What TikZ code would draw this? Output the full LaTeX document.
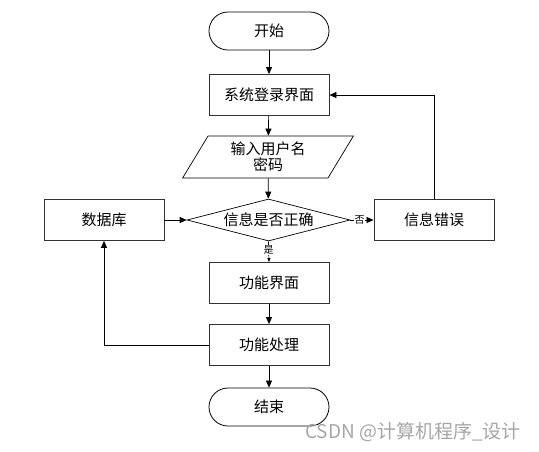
\documentclass[tikz,border=0pt]{standalone}
\usepackage{fontspec}
\setmainfont{Noto Sans CJK SC}
\newfontfamily\cjk{Noto Sans CJK SC}
\usetikzlibrary{shapes.geometric,arrows.meta}
\begin{document}
\begin{tikzpicture}[x=1pt,y=-1pt,
  font=\cjk\fontsize{15}{17}\selectfont,
  every node/.style={inner sep=0pt},
  term/.style={draw=black,line width=0.8pt,rounded corners=19pt,minimum width=120pt,minimum height=38pt},
  procbox/.style={draw=black!80,line width=0.8pt,minimum width=120pt,minimum height=41pt},
  iobox/.style={draw=black,line width=0.7pt,trapezium,trapezium left angle=62,trapezium right angle=118,trapezium stretches=true,minimum width=171pt,minimum height=42pt,align=center},
  decbox/.style={draw=black,line width=0.7pt,diamond,aspect=3.9,minimum width=163pt,minimum height=42pt},
  conn/.style={draw=black,line width=0.7pt,-{Triangle[length=7pt,width=6pt]}},
  lbl/.style={fill=white,font=\cjk\fontsize{10}{11}\selectfont,inner sep=0.5pt}]
\useasboundingbox (0,0) rectangle (539,451);
\node[term] (start) at (269,31) {开始};
\node[procbox] (login) at (269,95) {系统登录界面};
\node[iobox] (input) at (268,157) {输入用户名\\[-1pt]密码};
\node[decbox] (check) at (268.5,220) {信息是否正确};
\node[procbox] (db) at (104,220) {数据库};
\node[procbox] (err) at (434,220) {信息错误};
\node[procbox] (func) at (269,283) {功能界面};
\node[procbox] (proc) at (269,345) {功能处理};
\node[term] (end) at (269,407) {结束};
\coordinate (errtop) at (434,95);
\coordinate (dbcorner) at (104,345);
\draw[conn] (start) -- (login);
\draw[conn] (login) -- (input);
\draw[conn] (input) -- (check);
\draw[conn] (check.east) -- node[lbl,pos=0.4] {否} (err.west);
\draw[conn,-{Triangle[length=4pt,width=3pt]}] (check.south) -- node[lbl,pos=0.4] {是} (func.north);
\draw[conn] (db.east) -- (check.west);
\draw[conn] (err.north) -- (errtop) -- (login.east);
\draw[conn] (func) -- (proc);
\draw[conn] (proc.west) -- (dbcorner) -- (db.south);
\draw[conn] (proc) -- (end);
\node[text=black!35,font=\cjk\fontsize{19}{21}\selectfont] (wm) at (413,432) {CSDN @计算机程序\_设计};
\end{tikzpicture}
\end{document}
